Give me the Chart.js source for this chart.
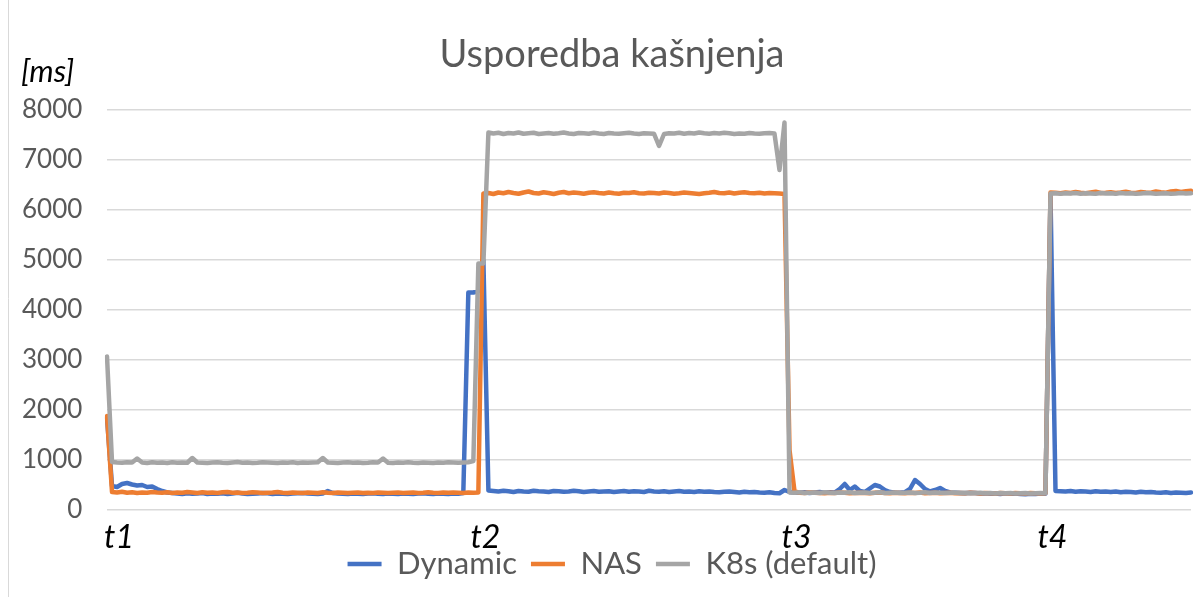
<!DOCTYPE html>
<html>
<head>
<meta charset="utf-8">
<title>Usporedba kašnjenja</title>
<script src="https://cdn.jsdelivr.net/npm/chart.js@4.4.1/dist/chart.umd.min.js"></script>
<style>
  html, body { margin: 0; padding: 0; background: #fff; }
  #wrap { width: 1200px; height: 597px; }
</style>
</head>
<body>
<div id="wrap"><canvas id="chart" width="1200" height="597"></canvas></div>
<script>
// podaci ocitani s grafa (217 mjerenja)
const dynamic = [
  1850, 480, 460, 520, 540, 510, 490, 500, 460, 470,
  420, 380, 350, 340, 330, 320, 335, 325, 330, 340,
  320, 330, 325, 335, 320, 330, 345, 330, 320, 325,
  330, 340, 335, 320, 330, 325, 320, 330, 335, 340,
  330, 325, 320, 330, 380, 340, 330, 325, 320, 330,
  325, 320, 330, 335, 325, 320, 330, 325, 320, 330,
  325, 320, 330, 335, 325, 320, 330, 325, 320, 330,
  325, 340, 4350, 4350, 4380, 5000, 390, 380, 370, 385,
  375, 360, 380, 370, 365, 385, 375, 370, 360, 380,
  375, 365, 370, 385, 375, 360, 370, 380, 365, 370,
  375, 360, 370, 380, 365, 375, 370, 360, 385, 370,
  365, 375, 360, 370, 380, 365, 370, 360, 375, 365,
  370, 360, 355, 365, 370, 360, 350, 365, 355, 360,
  350, 345, 355, 340, 335, 400, 360, 350, 345, 355,
  340, 350, 360, 345, 355, 350, 420, 520, 400, 470,
  380, 360, 430, 500, 470, 400, 360, 350, 345, 355,
  420, 600, 520, 420, 370, 400, 440, 380, 350, 345,
  340, 335, 345, 340, 330, 335, 325, 330, 320, 335,
  325, 330, 320, 315, 325, 320, 330, 325, 6300, 380,
  375, 370, 380, 365, 375, 370, 360, 375, 365, 370,
  360, 370, 355, 365, 360, 350, 365, 355, 360, 350,
  345, 355, 340, 350, 345, 340, 350
];

const nas = [
  1880, 360, 350, 365, 345, 355, 340, 350, 345, 360,
  350, 345, 355, 340, 350, 345, 360, 350, 340, 355,
  345, 350, 340, 355, 360, 345, 350, 340, 345, 355,
  350, 340, 345, 350, 360, 345, 340, 350, 345, 340,
  350, 345, 340, 355, 345, 340, 350, 345, 340, 345,
  350, 340, 345, 340, 350, 345, 340, 345, 350, 340,
  345, 350, 340, 345, 355, 345, 340, 350, 345, 350,
  345, 340, 350, 345, 350, 6330, 6340, 6320, 6350, 6335,
  6360, 6340, 6325, 6350, 6370, 6340, 6330, 6355, 6340, 6320,
  6345, 6360, 6335, 6350, 6340, 6325, 6345, 6355, 6340, 6330,
  6350, 6335, 6325, 6345, 6340, 6355, 6335, 6330, 6345, 6340,
  6330, 6350, 6340, 6325, 6335, 6350, 6340, 6330, 6320, 6335,
  6345, 6360, 6340, 6335, 6350, 6330, 6345, 6355, 6340, 6335,
  6345, 6330, 6340, 6335, 6330, 6320, 1200, 370, 345, 340,
  350, 345, 340, 335, 345, 340, 350, 345, 335, 340,
  345, 340, 335, 345, 350, 340, 335, 345, 340, 335,
  345, 340, 350, 335, 340, 345, 335, 340, 345, 335,
  340, 335, 345, 340, 330, 340, 335, 330, 340, 335,
  330, 340, 335, 330, 340, 335, 330, 335, 6350, 6345,
  6335, 6350, 6340, 6360, 6345, 6335, 6350, 6365, 6340, 6345,
  6355, 6340, 6350, 6365, 6345, 6340, 6360, 6350, 6345, 6370,
  6355, 6345, 6370, 6380, 6360, 6375, 6385
];

const k8s = [
  3070, 960, 950, 945, 955, 950, 1030, 950, 940, 955,
  945, 950, 940, 955, 945, 950, 945, 1040, 950, 945,
  940, 950, 955, 945, 940, 950, 960, 945, 950, 940,
  945, 955, 950, 945, 940, 950, 945, 955, 940, 950,
  945, 950, 955, 1040, 950, 945, 940, 950, 955, 945,
  950, 940, 945, 955, 950, 1030, 945, 940, 950, 945,
  955, 945, 940, 950, 945, 940, 950, 945, 955, 950,
  945, 950, 955, 980, 4930, 4930, 7550, 7530, 7545, 7520,
  7540, 7530, 7550, 7525, 7535, 7545, 7520, 7530, 7540, 7525,
  7535, 7550, 7530, 7520, 7540, 7535, 7525, 7545, 7530, 7520,
  7540, 7530, 7525, 7535, 7545, 7530, 7520, 7535, 7530, 7525,
  7280, 7520, 7535, 7530, 7545, 7525, 7540, 7530, 7550, 7535,
  7525, 7540, 7530, 7545, 7535, 7520, 7530, 7525, 7540, 7530,
  7525, 7535, 7540, 7530, 6800, 7750, 350, 345, 355, 340,
  345, 350, 340, 355, 345, 340, 350, 345, 355, 340,
  345, 350, 340, 345, 355, 340, 345, 350, 340, 345,
  350, 340, 345, 355, 340, 350, 345, 340, 345, 350,
  340, 345, 335, 340, 345, 335, 340, 330, 340, 335,
  340, 330, 335, 340, 330, 335, 340, 335, 6330, 6335,
  6325, 6335, 6330, 6340, 6325, 6335, 6330, 6325, 6340, 6330,
  6335, 6325, 6340, 6330, 6335, 6325, 6330, 6340, 6335, 6325,
  6330, 6335, 6325, 6330, 6340, 6330, 6335
];

// oznake na x osi (indeks mjerenja -> tekst)
const markIndex = [0, 73, 135, 186];
const markText = ['t1', 't2', 't3', 't4'];

const yTicksMax = 8000;
const yTicksStep = 1000;

const FONT = 'Lato, "Open Sans", sans-serif';
const GREY_TEXT = '#595959';

// "[ms]", oznake t1..t4 i lijevi rub okvira
const extrasPlugin = {
  id: 'extras',
  afterDraw(chart) {
    const ctx = chart.ctx;
    const xScale = chart.scales.x;
    ctx.save();
    ctx.strokeStyle = '#d9d9d9';
    ctx.lineWidth = 1;
    ctx.beginPath();
    ctx.moveTo(8.5, 0);
    ctx.lineTo(8.5, chart.height);
    ctx.stroke();

    ctx.fillStyle = '#000';
    ctx.textBaseline = 'alphabetic';
    ctx.textAlign = 'left';
    ctx.font = 'italic 31px ' + FONT;
    ctx.fillText('[ms]', 21, 82);

    ctx.textAlign = 'center';
    ctx.font = 'italic 32px ' + FONT;
    markIndex.forEach((idx, k) => {
      ctx.fillText(markText[k], xScale.getPixelForValue(idx) + 12, 548);
    });
    ctx.restore();
  }
};

const labels = dynamic.map((_, i) => i);

new Chart(document.getElementById('chart'), {
  type: 'line',
  data: {
    labels: labels,
    datasets: [{
      label: 'Dynamic',
      data: dynamic,
      borderColor: '#4472C4',
      backgroundColor: '#4472C4',
      borderWidth: 4.5,
      order: 3
    }, {
      label: 'NAS',
      data: nas,
      borderColor: '#ED7D31',
      backgroundColor: '#ED7D31',
      borderWidth: 4.5,
      order: 2
    }, {
      label: 'K8s (default)',
      data: k8s,
      borderColor: '#A5A5A5',
      backgroundColor: '#A5A5A5',
      borderWidth: 4.5,
      order: 1
    }]
  },
  options: {
    responsive: false,
    animation: false,
    layout: { padding: { left: 33, right: 9, top: 0, bottom: 7.5 } },
    elements: {
      line: { tension: 0, borderJoinStyle: 'round', borderCapStyle: 'round' },
      point: { radius: 0, hoverRadius: 0 }
    },
    plugins: {
      title: {
        display: true,
        text: 'Usporedba kašnjenja',
        color: GREY_TEXT,
        font: { family: FONT, size: 38, weight: 'normal' },
        padding: { top: 32, bottom: 32.4 }
      },
      legend: {
        position: 'bottom',
        labels: {
          color: GREY_TEXT,
          font: { family: FONT, size: 31 },
          usePointStyle: true,
          pointStyle: 'line',
          pointStyleWidth: 34,
          padding: 14,
          sort: (a, b) => a.datasetIndex - b.datasetIndex
        }
      },
      tooltip: { enabled: false }
    },
    scales: {
      x: {
        type: 'category',
        grid: { display: false },
        border: { display: false },
        afterFit(scale) { scale.height = 24.5; },
        ticks: { display: false }
      },
      y: {
        min: 0,
        max: yTicksMax,
        afterFit(scale) { scale.width = 74; },
        grid: { color: '#d9d9d9', lineWidth: 1.5, drawTicks: false },
        border: { display: false },
        ticks: {
          stepSize: yTicksStep,
          mirror: true,
          crossAlign: 'far',
          padding: -85,
          color: GREY_TEXT,
          font: { family: FONT, size: 26 },
          callback: (value) => String(value)
        }
      }
    }
  },
  plugins: [extrasPlugin]
});
</script>
</body>
</html>
